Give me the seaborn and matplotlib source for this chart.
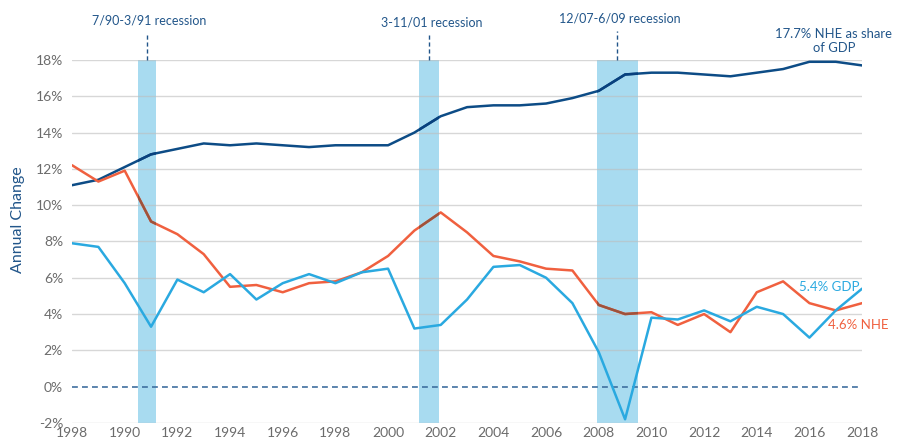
import numpy as np
import pandas as pd
import seaborn as sns
import matplotlib
matplotlib.use("Agg")
import matplotlib.pyplot as plt
from matplotlib.path import Path
from matplotlib.colors import to_rgb

# data
years = list(range(1988, 2019))
nhe_share = [11.1, 11.4, 12.1, 12.8, 13.1, 13.4, 13.3, 13.4, 13.3, 13.2, 13.3, 13.3, 13.3,
             14.0, 14.9, 15.4, 15.5, 15.5, 15.6, 15.9, 16.3, 17.2, 17.3, 17.3, 17.2, 17.1,
             17.3, 17.5, 17.9, 17.9, 17.7]
nhe_growth = [12.2, 11.3, 11.9, 9.1, 8.4, 7.3, 5.5, 5.6, 5.2, 5.7, 5.8, 6.3, 7.2,
              8.6, 9.6, 8.5, 7.2, 6.9, 6.5, 6.4, 4.5, 4.0, 4.1, 3.4, 4.0, 3.0,
              5.2, 5.8, 4.6, 4.2, 4.6]
gdp_growth = [7.9, 7.7, 5.7, 3.3, 5.9, 5.2, 6.2, 4.8, 5.7, 6.2, 5.7, 6.3, 6.5,
              3.2, 3.4, 4.8, 6.6, 6.7, 6.0, 4.6, 1.9, -1.8, 3.8, 3.7, 4.2, 3.6,
              4.4, 4.0, 2.7, 4.2, 5.4]

recessions = [(1990.5, 1991.17), (2001.17, 2001.92), (2007.92, 2009.5)]
recession_labels = ["7/90-3/91 recession", "3-11/01 recession", "12/07-6/09 recession"]

tick_years = list(range(1988, 2019, 2))
tick_labels = ["1998"] + [str(y) for y in range(1990, 2019, 2)]

df = pd.DataFrame({"year": years, "share": nhe_share, "nhe": nhe_growth, "gdp": gdp_growth})

dark_blue = "#0d4c86"
red = "#f0603f"
light_blue = "#2aa9e0"
band_color = "#a8dbf0"
text_blue = "#22568a"
grey_text = "#6b6b6b"

sns.set_style("white")
plt.rcParams["font.family"] = ["Lato", "DejaVu Sans"]

fig = plt.figure(figsize=(9.05, 4.41), dpi=100)
ax = fig.add_axes([0.0796, 0.041, 0.873, 0.823])

# recession bands
for x0, x1 in recessions:
    ax.axvspan(x0, x1, ymin=0, ymax=1, color=band_color, lw=0, zorder=1)

# horizontal grid
for yv in range(-2, 19, 2):
    if yv != 0:
        ax.axhline(yv, color="#bdbdbd", lw=1, alpha=0.6, zorder=1.5)
ax.axhline(0, color="#3f6f9f", lw=1.2, ls=(0, (3.5, 2.5)), zorder=1.6)

# dark blue and red sit under the bands, the GDP line sits on top
sns.lineplot(data=df, x="year", y="share", color=dark_blue, lw=1.8, ax=ax, zorder=2)
sns.lineplot(data=df, x="year", y="nhe", color=red, lw=1.8, ax=ax, zorder=2)

band_paths = [Path([(x0, -2), (x1, -2), (x1, 18), (x0, 18), (x0, -2)],
                   [Path.MOVETO, Path.LINETO, Path.LINETO, Path.LINETO, Path.CLOSEPOLY])
              for x0, x1 in recessions]
clip = Path.make_compound_path(*band_paths)
bc = np.array(to_rgb(band_color))
for col, c in [("share", dark_blue), ("nhe", red)]:
    mc = tuple(np.array(to_rgb(c)) * bc)
    sns.lineplot(data=df, x="year", y=col, color=mc, lw=1.8, ax=ax, zorder=2.1)
    ax.lines[-1].set_clip_path(clip, ax.transData)

sns.lineplot(data=df, x="year", y="gdp", color=light_blue, lw=1.8, ax=ax, zorder=3)

ax.set_xlim(1988, 2018)
ax.set_ylim(-2, 18)
ax.set_xticks(tick_years)
ax.set_xticklabels(tick_labels)
ax.set_yticks(range(-2, 19, 2))
ax.set_yticklabels([f"{v}%" for v in range(-2, 19, 2)])
ax.tick_params(axis="both", length=0, labelsize=10, labelcolor=grey_text)
ax.tick_params(axis="x", pad=3)
ax.tick_params(axis="y", pad=6.5)
ax.set_xlabel("")
ax.set_ylabel("")
for s in ax.spines.values():
    s.set_visible(False)

# recession markers above the plot
label_y = [1.108, 1.103, 1.113]
line_top = [1.069, 1.069, 1.08]
for (x0, x1), lab, ly, lt in zip(recessions, recession_labels, label_y, line_top):
    xc = (x0 + x1) / 2
    ax.plot([xc, xc], [1.0, lt], transform=ax.get_xaxis_transform(), color=text_blue,
            lw=1, ls=(0, (3, 2)), clip_on=False)
    ax.text(xc + 0.1, ly, lab, transform=ax.get_xaxis_transform(), ha="center", va="center",
            fontsize=9, color=text_blue)

ax.text(2016.93, 19.05, "17.7% NHE as share\nof GDP", ha="center", va="center",
        fontsize=9.4, color=text_blue, linespacing=1.2, clip_on=False)
ax.text(2015.6, 5.5, "5.4% GDP", ha="left", va="center", fontsize=9.5, color=light_blue)
ax.text(2016.7, 3.42, "4.6% NHE", ha="left", va="center", fontsize=9.5, color=red,
        clip_on=False)

fig.text(0.02, 0.501, "Annual Change", rotation=90, ha="center", va="center",
         fontsize=11.5, color=text_blue)

fig.savefig("out.png", dpi=100)
